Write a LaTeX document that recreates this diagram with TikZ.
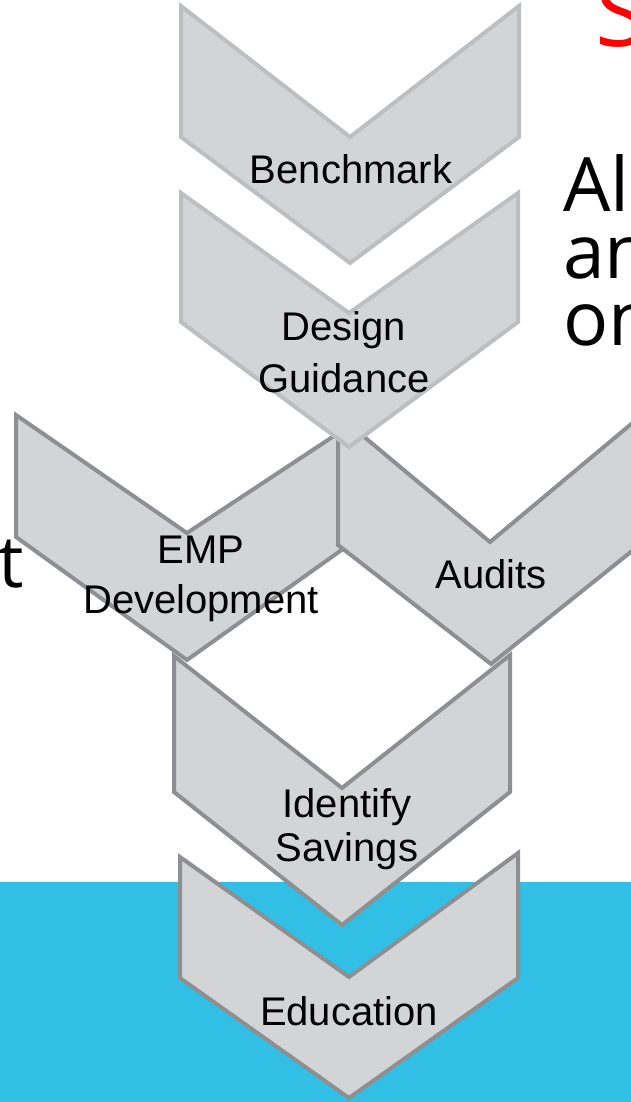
\documentclass[tikz,border=0pt]{standalone}
\usepackage{fontspec}
\setmainfont{Liberation Sans}
\newfontfamily\bodyfont{Open Sans}
\definecolor{chevfill}{RGB}{211,212,213}
\definecolor{lightedge}{RGB}{189,190,192}
\definecolor{darkedge}{RGB}{142,143,146}
\definecolor{seablue}{RGB}{50,191,230}
\begin{document}
\begin{tikzpicture}[x=1pt,y=-1pt,
  chev/.style={fill=chevfill, draw=#1, line width=4pt, line join=miter},
  lab/.style={font=\fontsize{40}{50}\selectfont, align=center, anchor=base, inner sep=0pt, text=black},
  side/.style={inner sep=0pt, text=black}]
\useasboundingbox (0,0) rectangle (631,1102);
\clip (0,0) rectangle (631,1102);
\fill[seablue] (0,882) rectangle (631,1102);
% chevrons
\draw[chev=lightedge] (181,6) -- (350,137) -- (519,6) -- (519,137) -- (350,263) -- (181,137) -- cycle;
\draw[chev=darkedge] (16,415) -- (187,533) -- (343,430) -- (343,549) -- (187,660) -- (16,537) -- cycle;
\draw[chev=darkedge] (338,415) -- (490,542) -- (642,415) -- (642,543) -- (491,664) -- (338,545) -- cycle;
\draw[chev=lightedge] (181,193) -- (349,313) -- (518,193) -- (518,322) -- (349,447) -- (181,322) -- cycle;
\draw[chev=darkedge] (174,656) -- (342,788) -- (510,655) -- (510,792) -- (342,925) -- (174,792) -- cycle;
\draw[chev=darkedge] (180,857) -- (349,977) -- (518,853) -- (518,978) -- (349,1098) -- (180,978) -- cycle;
% labels (base anchor = baseline of last line)
\node[lab] (bench) at (351,183) {Benchmark};
\node[lab, font=\fontsize{40}{52}\selectfont] (design) at (344,392) {Design\\Guidance};
\node[lab] (emp) at (201,613) {EMP\\Development};
\node[lab] (audits) at (491,588) {Audits};
\node[lab, font=\fontsize{40}{44}\selectfont] (ident) at (347,861) {Identify\\Savings};
\node[lab] (edu) at (349,1025) {Education};
% cropped slide text
\node[side, anchor=base west, align=left, font=\bodyfont\fontsize{75}{67}\selectfont] (body) at (563,345) {Al\\an\\on};
\node[side, anchor=base west, text=red, font=\bodyfont\fontsize{95}{95}\selectfont] (title) at (595,47) {S};
\node[side, anchor=base east, font=\bodyfont\fontsize{72}{72}\selectfont] (tleft) at (24,587) {t};
\end{tikzpicture}
\end{document}
